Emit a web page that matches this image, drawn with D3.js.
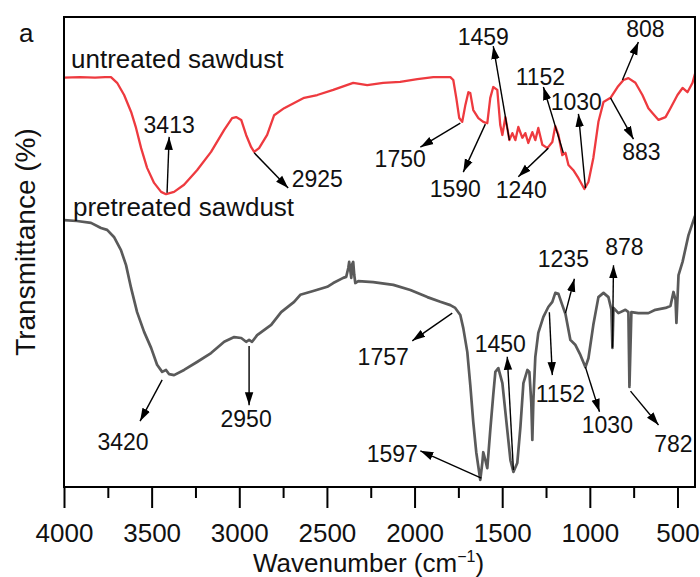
<!DOCTYPE html>
<html>
<head>
<meta charset="utf-8">
<script src="https://cdn.jsdelivr.net/npm/d3@7"></script>
<style>
  html, body { margin: 0; padding: 0; background: #ffffff; }
  svg { display: block; }
  text { font-family: "Liberation Sans", Arial, Helvetica, sans-serif; fill: #111; }
</style>
</head>
<body>
<div id="chart"></div>
<script>
// ---------- DATA ----------
const xDomain = [4000, 400];
const majorTicks = [4000, 3500, 3000, 2500, 2000, 1500, 1000, 500];
const minorTicks = [3750, 3250, 2750, 2250, 1750, 1250, 750];

// untreated sawdust: [wavenumber, transmittance (a.u.)]
const untreated = [
  [4000,87.1],[3909,87.2],[3823,87.1],[3766,87.2],[3732,87.2],[3697,86.0],[3657,83.4],[3617,79.8],
  [3589,76.4],[3560,72.1],[3526,67.9],[3486,64.7],[3446,62.8],[3418,62.3],[3372,62.8],[3315,64.3],
  [3241,67.4],[3161,71.3],[3086,76.0],[3041,78.5],[3018,78.7],[2989,78.1],[2961,74.9],[2932,72.3],
  [2915,71.3],[2887,72.1],[2841,74.9],[2801,79.1],[2744,80.6],[2687,81.7],[2630,82.8],[2555,83.4],
  [2464,84.5],[2350,86.0],[2270,85.5],[2179,86.0],[2082,86.2],[1984,86.8],[1893,87.2],[1796,87.2],
  [1779,86.6],[1762,82.8],[1745,78.5],[1728,77.7],[1710,81.3],[1693,84.0],[1682,83.8],[1665,80.2],
  [1636,78.5],[1608,77.7],[1585,77.4],[1568,82.8],[1551,85.1],[1528,84.5],[1511,77.0],[1499,74.9],
  [1482,78.7],[1459,73.8],[1442,75.3],[1425,73.8],[1408,76.6],[1385,74.3],[1368,75.3],[1351,73.2],
  [1328,75.5],[1311,73.8],[1294,76.4],[1271,72.8],[1242,72.1],[1214,73.4],[1197,76.8],[1179,74.9],
  [1157,70.6],[1139,71.1],[1122,68.5],[1094,67.4],[1065,65.7],[1031,63.4],[1008,64.9],[980,70.0],
  [951,77.7],[922,81.9],[882,82.8],[842,85.1],[808,86.6],[780,87.0],[740,86.0],[700,83.4],
  [666,80.6],[643,79.6],[608,78.1],[568,78.7],[540,80.6],[500,83.4],[471,84.9],[443,84.0],
  [414,86.0],[400,87.9]
];

// pretreated sawdust
const pretreated = [
  [4000,56.8],[3926,56.6],[3846,56.2],[3789,55.1],[3754,54.7],[3715,53.2],[3675,50.4],[3646,47.2],
  [3617,42.3],[3583,37.2],[3543,33.0],[3503,29.6],[3469,26.0],[3440,24.5],[3418,24.9],[3400,24.0],
  [3372,23.8],[3315,24.9],[3241,26.6],[3161,28.5],[3086,30.9],[3029,31.9],[2989,31.7],[2961,30.9],
  [2944,31.3],[2927,30.9],[2898,32.3],[2818,34.5],[2761,37.2],[2687,39.4],[2652,40.9],[2578,41.7],
  [2498,42.6],[2464,43.4],[2407,44.5],[2390,44.7],[2378,46.6],[2373,47.9],[2367,46.2],[2361,44.5],
  [2356,47.4],[2350,47.9],[2344,45.1],[2338,43.4],[2321,43.8],[2236,43.6],[2121,43.0],[2024,41.9],
  [1927,40.4],[1853,39.4],[1796,38.7],[1768,38.1],[1739,36.6],[1722,33.8],[1699,28.7],[1682,21.7],
  [1665,13.8],[1648,7.4],[1636,4.3],[1625,1.5],[1613,5.3],[1608,7.4],[1596,5.7],[1585,4.0],
  [1568,12.1],[1551,19.6],[1539,24.5],[1522,25.3],[1499,22.1],[1471,12.1],[1453,5.7],[1436,3.2],
  [1414,5.1],[1396,12.8],[1379,22.1],[1356,24.9],[1345,24.5],[1334,17.9],[1328,10.0],[1322,18.5],
  [1311,27.7],[1294,32.8],[1265,36.2],[1237,38.3],[1214,39.4],[1197,41.3],[1179,41.1],[1157,38.7],
  [1139,36.8],[1111,31.3],[1082,30.2],[1054,28.1],[1025,25.5],[1008,27.4],[980,34.5],[951,40.4],
  [922,41.3],[894,40.4],[877,37.7],[871,29.6],[865,38.1],[837,37.0],[797,37.7],[780,37.2],
  [774,21.3],[763,37.2],[723,37.0],[666,37.0],[626,37.7],[568,38.1],[540,38.5],[523,41.5],
  [511,39.8],[506,34.9],[494,45.1],[471,47.9],[437,53.6],[400,57.7]
];

// annotations: label, label position [wn, T], arrow tail [wn, T], arrow head [wn, T]
const annotations = [
  {t:"3413", at:[3400,75.3], from:[3412,62.6], to:[3400,74.5]},
  {t:"2925", at:[2555,63.8], from:[2915,71.1], to:[2721,63.6]},
  {t:"1750", at:[2082,68.1], from:[1739,77.4], to:[1967,72.3]},
  {t:"1590", at:[1768,61.7], from:[1596,77.2], to:[1722,67.0]},
  {t:"1459", at:[1608,94.0], from:[1459,73.8], to:[1551,93.8]},
  {t:"1152", at:[1282,85.5], from:[1151,71.1], to:[1265,85.1]},
  {t:"1030", at:[1077,80.2], from:[1025,63.6], to:[1065,79.4]},
  {t:"1240", at:[1391,61.5], from:[1237,72.1], to:[1408,66.0]},
  {t:"808",  at:[683,95.7],  from:[814,86.6],  to:[723,94.7]},
  {t:"883",  at:[706,69.6],  from:[882,82.8],  to:[751,74.0]},
  {t:"3420", at:[3663,7.9],  from:[3440,22.8], to:[3566,14.0]},
  {t:"2950", at:[2961,12.8], from:[2944,30.0], to:[2944,17.4]},
  {t:"1757", at:[2179,26.0], from:[1785,37.0], to:[2013,31.1]},
  {t:"1450", at:[1511,28.7], from:[1436,3.6],  to:[1471,27.7]},
  {t:"1597", at:[2127,5.3],  from:[1619,1.9],  to:[1967,7.7]},
  {t:"1235", at:[1151,46.8], from:[1139,37.0], to:[1088,44.3]},
  {t:"1152", at:[1168,18.1], from:[1231,37.2], to:[1214,23.8]},
  {t:"1030", at:[900,11.5],  from:[1025,25.5], to:[945,16.0]},
  {t:"878",  at:[803,49.4],  from:[871,29.6],  to:[865,47.2]},
  {t:"782",  at:[523,7.4],   from:[768,20.4],  to:[608,13.2]}
];

const seriesLabels = [
  {t:"untreated sawdust", at:[3960,89.1]},
  {t:"pretreated sawdust", at:[3949,57.7]}
];

// ---------- LAYOUT ----------
const W = 700, H = 577;
const margin = {top: 17, right: 5, bottom: 90, left: 64};
const iw = W - margin.left - margin.right;
const ih = H - margin.top - margin.bottom;

const svg = d3.select("#chart").append("svg").attr("width", W).attr("height", H);
const g = svg.append("g").attr("transform", `translate(${margin.left},${margin.top})`);

const x = d3.scaleLinear().domain(xDomain).range([0, iw]);
const y = d3.scaleLinear().domain([0, 100]).range([ih, 0]);

const defs = svg.append("defs");
defs.append("marker")
  .attr("id", "arrow")
  .attr("markerUnits", "userSpaceOnUse")
  .attr("viewBox", "0 -5 13 10")
  .attr("refX", 13).attr("refY", 0)
  .attr("markerWidth", 13).attr("markerHeight", 10)
  .attr("orient", "auto")
  .append("path").attr("d", "M0,-4.2L13,0L0,4.2Z").attr("fill", "#000");

const clip = defs.append("clipPath").attr("id", "clip");
clip.append("rect").attr("width", iw).attr("height", ih);

const line = d3.line().x(d => x(d[0])).y(d => y(d[1]));

g.append("path").datum(untreated)
  .attr("d", line).attr("fill", "none")
  .attr("stroke", "#ee3a3f").attr("stroke-width", 2.3).attr("stroke-linejoin", "round")
  .attr("clip-path", "url(#clip)");

g.append("path").datum(pretreated)
  .attr("d", line).attr("fill", "none")
  .attr("stroke", "#5a5a5a").attr("stroke-width", 2.7).attr("stroke-linejoin", "round")
  .attr("clip-path", "url(#clip)");

// frame
g.append("rect").attr("width", iw).attr("height", ih)
  .attr("fill", "none").attr("stroke", "#000").attr("stroke-width", 2);

// x axis: major
const xAxis = d3.axisBottom(x).tickValues(majorTicks).tickSize(21).tickSizeOuter(0).tickPadding(16)
  .tickFormat(d3.format("d"));
const ax = g.append("g").attr("transform", `translate(0,${ih})`).call(xAxis);
ax.select(".domain").remove();
ax.selectAll(".tick line").attr("stroke", "#000").attr("stroke-width", 2);
ax.selectAll(".tick text").attr("font-size", 26).attr("fill", "#111")
  .style("font-family", '"Liberation Sans", Arial, sans-serif');

// x axis: minor
const xMinor = d3.axisBottom(x).tickValues(minorTicks).tickSize(11).tickSizeOuter(0).tickFormat("");
const axm = g.append("g").attr("transform", `translate(0,${ih})`).call(xMinor);
axm.select(".domain").remove();
axm.selectAll(".tick line").attr("stroke", "#000").attr("stroke-width", 2);

// axis titles
const xt = svg.append("text")
  .attr("x", margin.left + iw / 2 - 11).attr("y", 572)
  .attr("text-anchor", "middle").attr("font-size", 26);
xt.append("tspan").text("Wavenumber (cm");
xt.append("tspan").attr("font-size", 16).attr("dy", -10).text("\u22121");
xt.append("tspan").attr("dy", 10).text(")");

svg.append("text")
  .attr("transform", `translate(35,${margin.top + ih / 2 - 10}) rotate(-90)`)
  .attr("text-anchor", "middle").attr("font-size", 28)
  .text("Transmittance (%)");

svg.append("text").attr("x", 19).attr("y", 42).attr("font-size", 26).text("a");

// series labels
g.selectAll(".slabel").data(seriesLabels).enter().append("text")
  .attr("class", "slabel")
  .attr("x", d => x(d.at[0])).attr("y", d => y(d.at[1]))
  .attr("font-size", 26).text(d => d.t);

// annotations
const ann = g.selectAll(".ann").data(annotations).enter().append("g").attr("class", "ann");
ann.append("line")
  .attr("x1", d => x(d.from[0])).attr("y1", d => y(d.from[1]))
  .attr("x2", d => x(d.to[0])).attr("y2", d => y(d.to[1]))
  .attr("stroke", "#000").attr("stroke-width", 1.4)
  .attr("marker-end", "url(#arrow)");
ann.append("text")
  .attr("x", d => x(d.at[0])).attr("y", d => y(d.at[1]))
  .attr("text-anchor", "middle").attr("font-size", 23)
  .text(d => d.t);
</script>
</body>
</html>
